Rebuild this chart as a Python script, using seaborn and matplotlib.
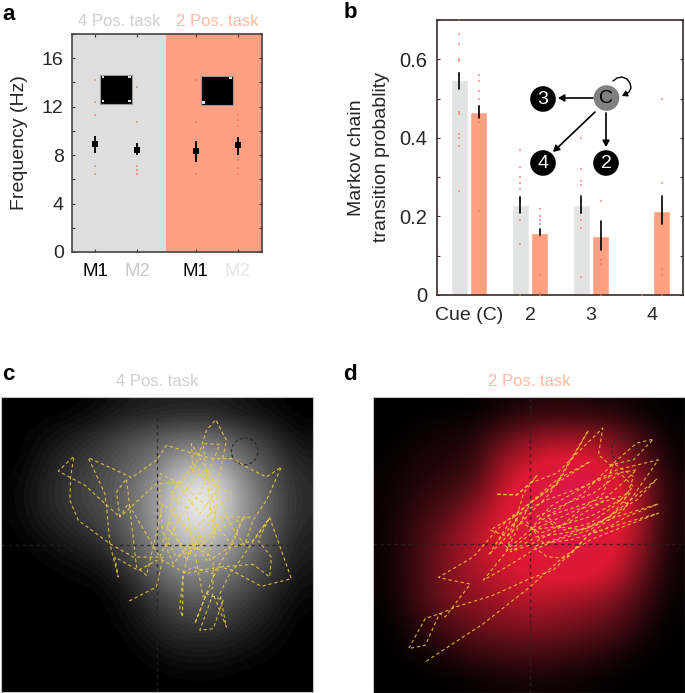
import numpy as np
import pandas as pd
import matplotlib
matplotlib.use("Agg")
import matplotlib.pyplot as plt
from matplotlib.colors import LinearSegmentedColormap
from matplotlib.patches import Circle, Rectangle
from matplotlib.ticker import MultipleLocator
import seaborn as sns

W, H = 685, 693
GREY = "#dedede"
SALMON = "#ffa083"
DOT = "#f0705a"
TRACE = "#f2d03c"

# panel a
freq_x = [0, 1, 2.4, 3.4]
freq_labels = ["M1", "M2", "M1", "M2"]
freq_label_colors = ["black", "#c8c8c8", "black", "#e6e6e6"]
freq_mean = [8.9, 8.45, 8.3, 8.8]
freq_low = [8.2, 8.0, 7.4, 8.0]
freq_high = [9.6, 9.0, 9.2, 9.5]
freq_dots = [
    [14.2, 12.4, 11.3, 7.1, 6.4],
    [13.6, 10.7, 7.1, 6.8, 6.4],
    [14.2, 10.7, 6.4],
    [11.3, 10.9, 10.4, 7.6, 6.9, 6.4],
]

# panel b
states = ["Cue (C)", "2", "3", "4"]
prob_4pos = [0.547, 0.228, 0.228, 0.0]
prob_2pos = [0.465, 0.158, 0.150, 0.215]
err_4pos = [(0.524, 0.565), (0.208, 0.249), (0.208, 0.253)]
err_2pos = [(0.450, 0.481), (0.152, 0.167), (0.115, 0.188), (0.181, 0.253)]
dots_4pos = [
    [0.70, 0.665, 0.64, 0.60, 0.595, 0.565, 0.465, 0.46, 0.41, 0.40, 0.38, 0.265],
    [0.37, 0.325, 0.30, 0.285, 0.27, 0.25, 0.24, 0.215, 0.19, 0.13, 0.0],
    [0.40, 0.32, 0.29, 0.28, 0.24, 0.21, 0.19, 0.17, 0.045],
    [0.0],
]
dots_2pos = [
    [0.56, 0.545, 0.52, 0.50, 0.48, 0.46, 0.44, 0.215],
    [0.22, 0.20, 0.19, 0.18, 0.15, 0.05, 0.005, 0.0],
    [0.24, 0.09, 0.08, 0.0],
    [0.50, 0.285, 0.18, 0.065, 0.05, 0.0],
]
node_names = ["C", "3", "4", "2"]
node_x = [606.5, 543, 543, 606]
node_y = [98, 99, 163, 163]
loop_x = [613, 617, 622, 627, 630, 631, 629, 626]
loop_y = [81, 78, 77, 79, 83, 88, 92, 94]

# panels c and d: gaze density, rows top to bottom
density_4pos = [
    [0, 0, 0, .04, .10, .12, .13, .12, .08, .03, 0],
    [0, .05, .12, .20, .30, .36, .42, .42, .30, .20, .05],
    [0, .10, .20, .28, .38, .50, .68, .70, .48, .30, .14],
    [.03, .14, .24, .31, .42, .60, .90, .93, .60, .38, .17],
    [.02, .12, .20, .28, .40, .60, .92, .90, .60, .38, .16],
    [0, .05, .10, .18, .33, .55, .74, .70, .50, .31, .12],
    [0, 0, .03, .05, .20, .40, .55, .52, .40, .24, .08],
    [0, 0, 0, 0, .08, .25, .36, .36, .26, .15, .03],
    [0, 0, 0, 0, .04, .15, .23, .23, .17, .08, 0],
    [0, 0, 0, 0, 0, .06, .10, .10, .06, .02, 0],
    [0, 0, 0, 0, 0, 0, .01, .01, 0, 0, 0],
]
density_2pos = [
    [0, 0, 0, 0, .05, .10, .12, .10, .08, .03, 0],
    [0, .03, .08, .10, .30, .45, .50, .50, .40, .20, .02],
    [.02, .08, .12, .15, .50, .65, .75, .75, .60, .35, .05],
    [.03, .12, .18, .30, .60, .80, .95, 1, .78, .50, .08],
    [.04, .18, .30, .50, .68, .82, .90, .90, .80, .50, .08],
    [.03, .20, .40, .58, .70, .75, .80, .80, .72, .45, .06],
    [.03, .20, .40, .52, .62, .70, .75, .75, .65, .35, .04],
    [.02, .20, .38, .45, .52, .60, .55, .50, .42, .22, .02],
    [0, .12, .25, .35, .40, .42, .40, .35, .28, .10, 0],
    [0, .03, .10, .18, .22, .25, .22, .18, .10, .02, 0],
    [0, 0, 0, .02, .05, .06, .05, .03, 0, 0, 0],
]

# gaze traces
trace_4pos_x = [388, 470, 490, 415, 345, 355, 330, 320, 315, 265, 360, 395, 470, 500, 575, 640, 700, 740, 800, 845,
                800, 760, 735, 690, 640, 600, 530, 490, 480, 480, 540, 600, 660, 750, 690, 640, 575, 580, 620, 648,
                680, 660, 640, 610, 660, 600, 540, 480, 385, 360, 470, 540, 580, 630, 650, 620, 560, 490, 440, 410,
                380, 350, 360, 255, 175, 222, 212, 210, 235, 330, 400, 470, 560, 600, 660, 700, 810, 875, 785, 695,
                660, 680, 640, 600, 640, 670, 620, 585, 640, 660, 760, 810, 815, 775, 810, 760, 700, 640, 580, 550,
                540, 548, 550, 580, 640, 700, 730, 690, 630, 600, 560, 510, 490, 520, 570, 640, 640, 610, 560, 510,
                580, 650, 700, 620, 570, 510, 530, 600, 660, 610, 540, 500, 560, 630, 680]
trace_4pos_y = [722, 680, 590, 630, 590, 650, 550, 440, 400, 292, 335, 352, 300, 255, 278, 295, 295, 320, 350, 320,
                420, 480, 555, 490, 520, 560, 590, 520, 440, 340, 370, 420, 470, 470, 490, 360, 250, 340, 210, 178,
                240, 340, 520, 250, 252, 400, 470, 590, 430, 470, 370, 365, 310, 360, 500, 600, 500, 430, 645, 620,
                355, 395, 470, 375, 332, 288, 350, 420, 480, 550, 590, 590, 640, 630, 620, 630, 472, 655, 678, 630,
                700, 800, 700, 810, 805, 720, 700, 790, 650, 620, 612, 650, 590, 540, 472, 540, 560, 480, 530, 640,
                745, 770, 640, 620, 640, 550, 470, 560, 600, 520, 600, 480, 540, 610, 550, 590, 680, 710, 440, 400,
                330, 380, 400, 470, 520, 440, 370, 460, 380, 330, 410, 500, 570, 520, 470]
trace_2pos_x = [228, 400, 540, 640, 720, 820, 925, 820, 720, 610, 540, 430, 318, 270, 225, 175, 225, 268, 285, 360,
                300, 265, 370, 440, 490, 540, 620, 720, 620, 490, 415, 500, 600, 715, 620, 540, 470, 520, 562, 540,
                500, 437, 500, 540, 620, 758, 745, 780, 850, 910, 860, 790, 700, 590, 480, 400, 470, 550, 620, 720,
                830, 920, 860, 760, 640, 550, 590, 650, 720, 820, 925, 800, 720, 600, 540, 620, 720, 830, 850, 790,
                760, 690, 620, 540, 480, 560, 640, 710, 800, 925, 830, 760, 660, 580, 510, 470, 420, 490, 590, 700,
                800, 860, 750, 650, 570, 500, 445, 480, 570, 680, 780, 840, 780, 700, 620, 560, 650, 730, 810, 850,
                790, 720, 640, 590, 680, 770, 830]
trace_2pos_y = [903, 790, 680, 590, 540, 500, 460, 490, 520, 630, 655, 705, 740, 760, 775, 865, 855, 760, 770, 672,
                660, 652, 590, 510, 465, 430, 370, 305, 360, 470, 585, 500, 400, 212, 375, 430, 570, 400, 345, 370,
                405, 403, 405, 370, 340, 205, 285, 315, 300, 238, 250, 310, 400, 470, 560, 660, 620, 570, 540, 510,
                430, 358, 420, 480, 530, 560, 590, 595, 520, 450, 300, 330, 370, 440, 510, 500, 470, 410, 350, 310,
                400, 450, 510, 555, 575, 530, 520, 505, 470, 432, 470, 510, 540, 550, 460, 530, 510, 470, 420, 380,
                340, 330, 430, 490, 520, 480, 540, 570, 500, 450, 420, 400, 470, 510, 500, 470, 430, 400, 340, 380,
                440, 490, 510, 470, 440, 410, 430]

# helpers -------------------------------------------------------------
sns.set_theme(style="ticks", rc={"axes.linewidth": 1.2})
plt.rcParams["font.family"] = ["Liberation Sans", "DejaVu Sans"]


def pixel_axes(fig, left, top, right, bottom):
    return fig.add_axes([left / W, 1 - bottom / H, (right - left) / W, (bottom - top) / H])


fig = plt.figure(figsize=(W / 100, H / 100), dpi=100)

# a ------------------------------------------------------------------
ax_a = pixel_axes(fig, 72, 34, 262, 252)
ax_a.set_xlim(-0.548, 3.976)
ax_a.set_ylim(0, 18)
ax_a.axvspan(-0.548, 1.69, color=GREY, lw=0, zorder=0)
ax_a.axvspan(1.69, 3.976, color=SALMON, lw=0, zorder=0)
df_a = pd.DataFrame({"x": freq_x, "mean": freq_mean})
dots_a = pd.DataFrame({
    "x": [x for x, vals in zip(freq_x, freq_dots) for _ in vals],
    "y": [v for vals in freq_dots for v in vals],
})
sns.scatterplot(data=dots_a, x="x", y="y", ax=ax_a, color=DOT, s=1, marker="s", linewidth=0, alpha=0.6, zorder=2)
ax_a.vlines(freq_x, freq_low, freq_high, color="black", lw=1.3, zorder=3)
sns.scatterplot(data=df_a, x="x", y="mean", ax=ax_a, color="black", s=20, marker="s", linewidth=0, zorder=4)
for left, bottom, corners in [(0.12, 12.25, [(0, 0), (1, 0), (0, 1), (1, 1)]), (2.52, 12.15, [(1, 1), (0, 0)])]:
    ax_a.add_patch(Rectangle((left, bottom), 0.77, 2.4, fc="black", ec="#999999", lw=0.8, zorder=5))
    for cx, cy in corners:
        ax_a.add_patch(Rectangle((left + 0.035 + cx * 0.63, bottom + 0.1 + cy * 2.0), 0.07, 0.2,
                                 fc="#dddddd", ec="none", zorder=6))
ax_a.set_xticks(freq_x)
ax_a.set_xticklabels(freq_labels, fontsize=13.5)
for lab, col in zip(ax_a.get_xticklabels(), freq_label_colors):
    lab.set_color(col)
ax_a.set_yticks([0, 4, 8, 12, 16])
ax_a.yaxis.set_minor_locator(MultipleLocator(2))
ax_a.tick_params(axis="both", which="both", direction="in", top=True, right=True, color="#333333", length=2.5, width=0.8)
ax_a.tick_params(axis="y", labelsize=14, pad=6)
ax_a.tick_params(axis="x", pad=8)
ax_a.set_xlabel("")
ax_a.set_ylabel("Frequency (Hz)", fontsize=14, labelpad=10)
for s in ax_a.spines.values():
    s.set_color("#444444")

# b ------------------------------------------------------------------
ax_b = pixel_axes(fig, 437, 20, 683, 295)
df_b = pd.DataFrame({
    "state": states * 2,
    "task": ["4 Pos."] * 4 + ["2 Pos."] * 4,
    "prob": prob_4pos + prob_2pos,
})
sns.barplot(data=df_b, x="state", y="prob", hue="task", palette=["#e2e3e3", SALMON], width=0.64, gap=0.13,
            saturation=1, legend=False, ax=ax_b, zorder=1)
offset = 0.16
for i, (lo, hi) in enumerate(err_4pos):
    ax_b.plot([i - offset, i - offset], [lo, hi], color="black", lw=1.2, zorder=4)
for i, (lo, hi) in enumerate(err_2pos):
    ax_b.plot([i + offset, i + offset], [lo, hi], color="black", lw=1.2, zorder=4)
dots_b = pd.DataFrame({
    "x": [i - offset for i, vals in enumerate(dots_4pos) for _ in vals]
         + [i + offset for i, vals in enumerate(dots_2pos) for _ in vals],
    "y": [v for vals in dots_4pos for v in vals] + [v for vals in dots_2pos for v in vals],
})
sns.scatterplot(data=dots_b, x="x", y="y", ax=ax_b, color=DOT, s=1, marker="s", linewidth=0, alpha=0.6, zorder=3)
ax_b.set_xlim(-0.525, 3.51)
ax_b.set_ylim(0, 0.7)
ax_b.set_yticks([0, 0.2, 0.4, 0.6])
ax_b.set_yticklabels(["0", "0.2", "0.4", "0.6"])
ax_b.yaxis.set_minor_locator(MultipleLocator(0.1))
ax_b.tick_params(axis="y", which="both", direction="in", right=True, color="#333333", length=2.5, width=0.8,
                 labelsize=14.5, pad=7)
ax_b.tick_params(axis="x", length=0, labelsize=14, pad=9)
ax_b.set_xlabel("")
ax_b.set_ylabel("Markov chain\ntransition probablity", fontsize=14, labelpad=7, linespacing=1.55)
for s in ax_b.spines.values():
    s.set_color("#3b2a28")

# state diagram sits on top of the bars, in pixel coordinates
ax_net = pixel_axes(fig, 437, 20, 683, 295)
ax_net.set_xlim(437, 683)
ax_net.set_ylim(295, 20)
ax_net.axis("off")
ax_net.patch.set_alpha(0)
net = pd.DataFrame({"x": node_x, "y": node_y, "name": node_names})
sns.scatterplot(data=net, x="x", y="y", hue="name", palette=["#808080", "black", "black", "black"], s=340,
                linewidth=0, legend=False, ax=ax_net, zorder=3)
ax_net.set_xlim(437, 683)
ax_net.set_ylim(295, 20)
for name, x, y in zip(node_names, node_x, node_y):
    ax_net.text(x, y + 0.5, name, color="black" if name == "C" else "white", fontsize=14,
                ha="center", va="center", zorder=4)
arrow = dict(arrowstyle="-|>,head_width=0.17,head_length=0.3", color="black", lw=1.2, shrinkA=0, shrinkB=0)
ax_net.annotate("", xy=(558, 98), xytext=(593, 98), arrowprops=arrow)
ax_net.annotate("", xy=(606, 147), xytext=(606, 113), arrowprops=arrow)
ax_net.annotate("", xy=(553, 152), xytext=(595, 112), arrowprops=arrow)
ax_net.plot(loop_x, loop_y, color="black", lw=1.0, zorder=4)
ax_net.annotate("", xy=(622, 96), xytext=(loop_x[-1], loop_y[-1]),
                arrowprops=dict(arrow, arrowstyle="-|>,head_width=0.15,head_length=0.25", lw=1.0))

# c and d ------------------------------------------------------------
grey_map = plt.get_cmap("gray", 48)
red_map = LinearSegmentedColormap.from_list(
    "gaze_red", [(0, "black"), (0.3, "#5a0e16"), (0.68, "#dc1932"), (1, "#dc1650")])

ax_c = pixel_axes(fig, 1, 397, 313, 692)
ax_d = pixel_axes(fig, 373, 397, 685, 693)
panels = [
    (ax_c, density_4pos, grey_map, (3, 940, 995, 110), (472, 553), (735, 273, 40), trace_4pos_x, trace_4pos_y),
    (ax_d, density_2pos, red_map, (68, 1005, 998, 112), (541, 553), (822, 270, 38), trace_2pos_x, trace_2pos_y),
]
for ax, density, cmap, extent, cross, ring, tx, ty in panels:
    ax.imshow(np.array(density), cmap=cmap, vmin=0, vmax=1, extent=extent, aspect="auto", interpolation="bicubic")
    ax.axvline(cross[0], color="#2a2020", lw=1.0, ls=(0, (2.5, 2.5)), alpha=0.8)
    ax.axhline(cross[1], color="#2a2020", lw=1.0, ls=(0, (2.5, 2.5)), alpha=0.8)
    ax.add_patch(Circle(ring[:2], ring[2], fill=False, ec="#2a2a2a", lw=0.9, ls=(0, (2.5, 2))))
    trace = pd.DataFrame({"x": tx, "y": ty, "order": range(len(tx))})
    sns.lineplot(data=trace, x="x", y="y", sort=False, estimator=None, ax=ax, color=TRACE, lw=0.8,
                 ls=(0, (3, 2.5)), alpha=0.85)
    ax.set_xlim(extent[0], extent[1])
    ax.set_ylim(extent[2], extent[3])
    ax.set_xticks([])
    ax.set_yticks([])
    ax.set_xlabel("")
    ax.set_ylabel("")
    for s in ax.spines.values():
        s.set_color("#c4c4c4")
        s.set_linewidth(0.8)

# titles and panel letters -------------------------------------------
for x, y, txt, col in [(119, 22, "4 Pos. task", "#cfcfcf"), (217, 22, "2 Pos. task", "#ffb9a3"),
                       (157, 381, "4 Pos. task", "#cfcfcf"), (529, 381, "2 Pos. task", "#ffb9a3")]:
    fig.text(x / W, 1 - y / H, txt, color=col, fontsize=12, ha="center", va="center")
for x, y, txt in [(2, 14, "a"), (344, 12, "b"), (2, 374, "c"), (343, 374, "d")]:
    fig.text(x / W, 1 - y / H, txt, color="black", fontsize=16, fontweight="bold", ha="left", va="center")

fig.savefig("out.png", dpi=100)
